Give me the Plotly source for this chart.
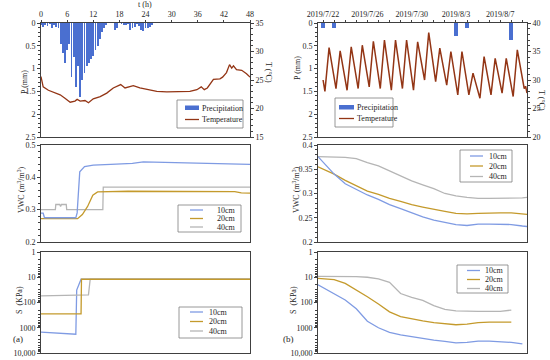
import plotly.graph_objects as go

# ===================== DATA =====================
# ---- (a) rainfall event, t in hours ----
t_rain = [0.0, 0.5, 1.0, 1.5, 2.0, 2.5, 3.0, 3.5, 4.0, 4.5, 5.0, 5.5, 6.0, 6.5, 7.0, 7.5,
          8.0, 8.5, 9.0, 9.5, 10.0, 10.5, 11.0, 11.5, 12.0, 12.5, 13.0, 13.5, 14.0, 14.5,
          15.0, 15.5, 16.0, 16.5, 17.0, 17.5, 18.0, 18.5, 19.0, 19.5, 20.0, 20.5, 21.0,
          21.5, 22.0, 22.5, 23.0, 23.5, 24.0, 24.5, 25.0, 25.5, 26.0]
p_rain = [0.05, 0.08, 0.04, 0.06, 0.03, 0.10, 0.05, 0.08, 0.12, 0.45, 0.66, 0.88, 0.60, 0.45,
          1.18, 0.74, 1.40, 0.95, 1.62, 1.25, 1.10, 0.95, 0.88, 0.80, 0.72, 0.60, 0.50, 0.35,
          0.20, 0.12, 0.05, 0.0, 0.0, 0.0, 0.15, 0.10, 0.0, 0.03, 0.05, 0.04, 0.02, 0.15,
          0.12, 0.08, 0.03, 0.06, 0.15, 0.18, 0.12, 0.10, 0.08, 0.05, 0.0]

t_temp = [0, 0.5, 1.7, 3.2, 4.4, 5.5, 6.7, 7.8, 8.3, 9.0, 10.1, 10.9, 12.0, 13.6, 15.1, 16.6,
          17.8, 18.3, 19.3, 20.1, 21.2, 22.7, 24.3, 26.6, 28.9, 31.9, 34.2, 35.8, 36.8, 37.5,
          38.2, 39.6, 41.1, 41.7, 42.6, 43.3, 43.8, 44.2, 44.9, 46.1, 47.2, 48]
temp_a = [25.6, 23.8, 23.2, 22.7, 22.4, 21.8, 21.1, 21.3, 21.6, 21.3, 21.4, 21.0, 21.7, 22.1,
          22.7, 23.6, 24.0, 24.2, 23.6, 23.8, 24.0, 23.6, 23.3, 23.0, 22.9, 22.9, 23.0, 23.3,
          23.8, 23.3, 23.6, 25.1, 25.2, 25.5, 26.3, 27.7, 27.1, 27.5, 26.8, 26.7, 26.1, 25.5]

t_vwc10_a = [0, 0.5, 0.8, 8.0, 8.3, 8.6, 8.9, 10.0, 12.0, 16.0, 21.0, 23.5, 29.0, 36.6, 48]
vwc10_a = [0.289, 0.289, 0.275, 0.275, 0.29, 0.36, 0.417, 0.433, 0.438, 0.44, 0.443, 0.448,
           0.446, 0.443, 0.44]
t_vwc20_a = [0, 8.4, 9.5, 10.7, 11.9, 13.0, 20.0, 36.6, 44.5, 46.0, 48]
vwc20_a = [0.272, 0.272, 0.285, 0.31, 0.345, 0.355, 0.357, 0.356, 0.356, 0.352, 0.351]
t_vwc40_a = [0, 3.3, 3.4, 4.3, 4.5, 4.7, 5.8, 5.9, 14.2, 14.3, 48]
vwc40_a = [0.30, 0.30, 0.316, 0.316, 0.31, 0.316, 0.316, 0.30, 0.30, 0.37, 0.37]

t_s10_a = [0, 8.0, 8.2, 9.2, 48]
s10_a = [1500, 1800, 32, 12, 12]
t_s20_a = [0, 9.2, 9.3, 48]
s20_a = [280, 280, 12, 12]
t_s40_a = [0, 10.9, 11.3, 48]
s40_a = [55, 50, 12, 12]

# ---- (b) field monitoring, dates ----
rain_dates_b = ['2019-07-22', '2019-07-23', '2019-08-03', '2019-08-04', '2019-08-08']
p_rain_b = [0.11, 0.11, 0.29, 0.11, 0.38]

temp_dates_b = ['2019-07-22 00:00',
                '2019-07-22 04:00', '2019-07-22 13:00', '2019-07-23 04:00', '2019-07-23 13:00',
                '2019-07-24 04:00', '2019-07-24 13:00', '2019-07-25 04:00', '2019-07-25 13:00',
                '2019-07-26 04:00', '2019-07-26 13:00', '2019-07-27 04:00', '2019-07-27 13:00',
                '2019-07-28 04:00', '2019-07-28 13:00', '2019-07-29 04:00', '2019-07-29 13:00',
                '2019-07-30 04:00', '2019-07-30 13:00', '2019-07-31 04:00', '2019-07-31 13:00',
                '2019-08-01 04:00', '2019-08-01 13:00', '2019-08-02 04:00', '2019-08-02 13:00',
                '2019-08-03 04:00', '2019-08-03 13:00', '2019-08-04 04:00', '2019-08-04 13:00',
                '2019-08-05 04:00', '2019-08-05 13:00', '2019-08-06 04:00', '2019-08-06 13:00',
                '2019-08-07 04:00', '2019-08-07 13:00', '2019-08-08 04:00', '2019-08-08 13:00',
                '2019-08-09 04:00', '2019-08-09 07:00', '2019-08-09 10:00']
temp_b = [30.0, 28.0, 35.7, 28.5, 35.1, 28.2, 35.8, 28.5, 36.1, 28.8, 36.8, 28.5, 37.0, 28.2,
          37.0, 28.5, 37.0, 28.2, 36.7, 30.0, 38.3, 29.7, 35.6, 29.1, 35.0, 27.4, 35.0, 27.4,
          31.2, 26.8, 34.1, 27.4, 33.8, 27.7, 33.8, 27.1, 35.3, 28.5, 28.9, 27.7]

soil_dates_b = ['2019-07-21 13:00', '2019-07-22', '2019-07-23', '2019-07-24', '2019-07-25',
                '2019-07-26', '2019-07-27', '2019-07-28', '2019-07-29', '2019-07-30',
                '2019-07-31', '2019-08-01', '2019-08-02', '2019-08-03', '2019-08-04',
                '2019-08-05', '2019-08-06', '2019-08-07', '2019-08-08', '2019-08-09',
                '2019-08-09 10:00']
vwc10_b = [0.376, 0.364, 0.34, 0.32, 0.308, 0.297, 0.288, 0.277, 0.269, 0.26, 0.252, 0.245,
           0.24, 0.236, 0.234, 0.237, 0.237, 0.237, 0.236, 0.233, 0.232]
vwc20_b = [0.355, 0.350, 0.34, 0.327, 0.316, 0.305, 0.298, 0.29, 0.284, 0.277, 0.272, 0.267,
           0.263, 0.259, 0.258, 0.259, 0.26, 0.26, 0.26, 0.258, 0.257]
vwc40_b = [0.376, 0.376, 0.3755, 0.3745, 0.372, 0.3635, 0.357, 0.347, 0.336, 0.326, 0.318,
           0.31, 0.30, 0.295, 0.292, 0.29, 0.29, 0.29, 0.29, 0.291, 0.292]
s10_b = [20, 26, 45, 79, 178, 550, 1000, 1510, 1900, 2240, 2750, 3090, 3470, 3980, 3800, 3390,
         3390, 3550, 3800, 4360, None]
s20_b = [11, 11.2, 12.3, 17.4, 31, 59, 115, 234, 363, 447, 537, 631, 708, 759, 724, 631, 603,
         603, 603, None, None]
s40_b = [9.3, 9.3, 9.3, 9.3, 9.5, 10, 11.5, 15.8, 44, 62, 83, 132, 186, 214, 224, 224, 224,
         224, 200, None, None]

# tick labels
t_ticks = [0, 6, 12, 18, 24, 30, 36, 42, 48]
date_ticks = ['2019-07-22', '2019-07-26', '2019-07-30', '2019-08-03', '2019-08-07']
date_ticktext = ['2019/7/22', '2019/7/26', '2019/7/30', '2019/8/3', '2019/8/7']
s_ticks = [1, 10, 100, 1000, 10000]
s_ticktext = ['1', '10', '100', '1000', '10,000']
s_minor = [2, 3, 4, 5, 6, 7, 8, 9, 20, 30, 40, 50, 60, 70, 80, 90, 200, 300, 400, 500, 600,
           700, 800, 900, 2000, 3000, 4000, 5000, 6000, 7000, 8000, 9000]
layer_names = ['10cm', '20cm', '40cm']

# ===================== STYLE =====================
W, H = 550, 360
def px(x): return x / W
def py(y): return 1 - y / H

FONT = "Liberation Serif"
C_P = "#4a6fd0"
C_T = "#933515"
CL = ["#7f9be3", "#c49a2c", "#b5b5b5"]
AX = "#404040"
TXT = "#1e1e1e"
LW = 1.3

fig = go.Figure()

# ---- (a) ----
fig.add_bar(x=t_rain, y=p_rain, width=0.42, marker=dict(color=C_P, line=dict(width=0)),
            xaxis='x', yaxis='y', showlegend=False)
fig.add_scatter(x=t_temp, y=temp_a, mode='lines', line=dict(color=C_T, width=LW),
                xaxis='x', yaxis='y7', showlegend=False)
for tt, vv, c in [(t_vwc40_a, vwc40_a, CL[2]), (t_vwc20_a, vwc20_a, CL[1]), (t_vwc10_a, vwc10_a, CL[0])]:
    fig.add_scatter(x=tt, y=vv, mode='lines', line=dict(color=c, width=LW), xaxis='x2', yaxis='y2',
                    showlegend=False)
for tt, vv, c in [(t_s10_a, s10_a, CL[0]), (t_s40_a, s40_a, CL[2]), (t_s20_a, s20_a, CL[1])]:
    fig.add_scatter(x=tt, y=vv, mode='lines', line=dict(color=c, width=LW), xaxis='x3', yaxis='y3',
                    showlegend=False)

# ---- (b) ----
fig.add_bar(x=rain_dates_b, y=p_rain_b, width=0.36 * 86400000,
            marker=dict(color=C_P, line=dict(width=0)), xaxis='x4', yaxis='y4', showlegend=False)
fig.add_scatter(x=temp_dates_b, y=temp_b, mode='lines', line=dict(color=C_T, width=1.5),
                xaxis='x4', yaxis='y8', showlegend=False)
for vv, c in [(vwc40_b, CL[2]), (vwc20_b, CL[1]), (vwc10_b, CL[0])]:
    fig.add_scatter(x=soil_dates_b, y=vv, mode='lines', line=dict(color=c, width=LW),
                    xaxis='x5', yaxis='y5', showlegend=False)
for vv, c in [(s40_b, CL[2]), (s20_b, CL[1]), (s10_b, CL[0])]:
    fig.add_scatter(x=soil_dates_b, y=vv, mode='lines', line=dict(color=c, width=LW),
                    xaxis='x6', yaxis='y6', showlegend=False)

tickfont = dict(family=FONT, size=8, color=TXT)
base = dict(showline=True, linecolor=AX, linewidth=1, ticks='outside', tickcolor=AX, ticklen=3,
            tickwidth=1, showgrid=False, zeroline=False, tickfont=tickfont, automargin=False,
            color=TXT)
minor_y = lambda d: dict(ticks='outside', ticklen=2, tickcolor=AX, dtick=d, showgrid=False)

XL = [px(41), px(250)]
XR = [px(318), px(527)]
YT = [py(137), py(23)]
YM = [py(242), py(145)]
YB = [py(353), py(252)]
xr_dates = ['2019-07-21 13:00', '2019-08-09 10:00']

fig.update_layout(
    width=W, height=H, margin=dict(l=0, r=0, t=0, b=0),
    paper_bgcolor='white', plot_bgcolor='white', showlegend=False, bargap=0,
    font=dict(family=FONT, size=8, color=TXT),
    xaxis=dict(base, domain=XL, anchor='y', side='top', range=[0, 48], tickvals=t_ticks,
               mirror=True, ticklen=2),
    yaxis=dict(base, domain=YT, anchor='x', range=[2.5, 0], tickvals=[0, 0.5, 1, 1.5, 2, 2.5],
               ticktext=['0', '0.5', '1', '1.5', '2', '2.5'], minor=minor_y(0.1)),
    yaxis7=dict(base, overlaying='y', side='right', anchor='x', range=[15, 35], dtick=5,
                minor=minor_y(1)),
    xaxis2=dict(base, domain=XL, anchor='y2', range=[0, 48], showticklabels=False, ticks='',
                mirror=True),
    yaxis2=dict(base, domain=YM, anchor='x2', range=[0.2, 0.5], tickvals=[0.2, 0.3, 0.4, 0.5],
                ticktext=['0.2', '0.3', '0.4', '0.5'], mirror=True, minor=minor_y(0.02)),
    xaxis3=dict(base, domain=XL, anchor='y3', range=[0, 48], showticklabels=False, ticks='',
                mirror=True),
    yaxis3=dict(base, domain=YB, anchor='x3', type='log', range=[4, 0], tickvals=s_ticks,
                ticktext=s_ticktext, mirror=True,
                minor=dict(ticks='outside', ticklen=2, tickcolor=AX, tickvals=s_minor)),
    xaxis4=dict(base, domain=XR, anchor='y4', type='date', side='top', range=xr_dates,
                tickvals=date_ticks, ticktext=date_ticktext, mirror=True, ticklen=2,
                minor=dict(ticks='outside', ticklen=2, tickcolor=AX, dtick=86400000,
                           tick0='2019-07-22')),
    yaxis4=dict(base, domain=YT, anchor='x4', range=[2.5, 0], tickvals=[0, 0.5, 1, 1.5, 2, 2.5],
                ticktext=['0', '0.5', '1', '1.5', '2', '2.5'], minor=minor_y(0.1)),
    yaxis8=dict(base, overlaying='y4', side='right', anchor='x4', range=[20, 40], dtick=5,
                minor=minor_y(1)),
    xaxis5=dict(base, domain=XR, anchor='y5', type='date', range=xr_dates, showticklabels=False,
                ticks='', mirror=True),
    yaxis5=dict(base, domain=YM, anchor='x5', range=[0.2, 0.4],
                tickvals=[0.2, 0.25, 0.3, 0.35, 0.4], ticktext=['0.2', '0.25', '0.3', '0.35', '0.4'],
                mirror=True, minor=minor_y(0.01)),
    xaxis6=dict(base, domain=XR, anchor='y6', type='date', range=xr_dates, showticklabels=False,
                ticks='', mirror=True),
    yaxis6=dict(base, domain=YB, anchor='x6', type='log', range=[4, 0], tickvals=s_ticks,
                ticktext=s_ticktext, mirror=True,
                minor=dict(ticks='outside', ticklen=2, tickcolor=AX, tickvals=s_minor)),
)

shapes = []
annotations = []

def text(x, y, s, angle=0, anchor='center', size=8):
    annotations.append(dict(xref='paper', yref='paper', x=px(x), y=py(y), text=s, showarrow=False,
                            textangle=angle, xanchor=anchor, yanchor='middle',
                            font=dict(family=FONT, size=size, color=TXT)))

def box(x0, y0, x1, y1):
    shapes.append(dict(type='rect', xref='paper', yref='paper', x0=px(x0), x1=px(x1),
                       y0=py(y1), y1=py(y0), line=dict(color='#7f7f7f', width=0.8),
                       fillcolor='white', layer='above'))

def seg(x0, x1, y, color):
    shapes.append(dict(type='line', xref='paper', yref='paper', x0=px(x0), x1=px(x1),
                       y0=py(y), y1=py(y), line=dict(color=color, width=LW), layer='above'))

def patch(x0, x1, y0, y1, color):
    shapes.append(dict(type='rect', xref='paper', yref='paper', x0=px(x0), x1=px(x1),
                       y0=py(y1), y1=py(y0), line=dict(width=0), fillcolor=color, layer='above'))

# axis titles
text(145, 5, 't (h)')
text(25, 82, 'P (mm)', -90)
text(268, 72, 'T (°C)', 90)
text(21, 190, 'VWC (m<sup>3</sup>/m<sup>3</sup>)', -90)
text(19, 300, 'S  (KPa)', -90)
text(297, 68, 'P (mm)', -90)
text(542, 100, 'T (°C)', 90)
text(296, 190, 'VWC (m<sup>3</sup>/m<sup>3</sup>)', -90)
text(293, 300, 'S  (KPa)', -90)
text(18, 339, '(a)', size=9)
text(288, 339, '(b)', size=9)

# legends (a) top
box(177, 100, 243, 128)
patch(185, 199, 105.5, 110, C_P)
text(200, 108, 'Precipitation', anchor='left')
seg(185, 199, 119.5, C_T)
text(200, 119.5, 'Temperature', anchor='left')
# legends (b) top
box(335, 98, 393, 127)
patch(339, 354, 105, 109.5, C_P)
text(355, 107.5, 'Precipitation', anchor='left')
seg(339, 354, 118.5, C_T)
text(355, 118.5, 'Temperature', anchor='left')

def layer_legend(x0, y0, x1, y1, lx0, lx1, tx, ys):
    box(x0, y0, x1, y1)
    for name, c, yy in zip(layer_names, CL, ys):
        seg(lx0, lx1, yy, c)
        text(tx, yy, name, anchor='left')

layer_legend(178, 205, 241, 232, 190, 203, 215, [210, 218.5, 227])
layer_legend(460, 150, 512, 182, 470, 483, 487, [156, 166, 176.5])
layer_legend(179, 307, 242, 338, 190, 203, 207, [312, 321.5, 331])
layer_legend(457, 265, 508, 293, 467, 480, 483, [270.5, 279.5, 288.5])

fig.update_layout(shapes=shapes, annotations=annotations)
fig.write_html("out.html", config={'displayModeBar': False, 'staticPlot': True},
               post_script="document.body.style.margin='0px';")
